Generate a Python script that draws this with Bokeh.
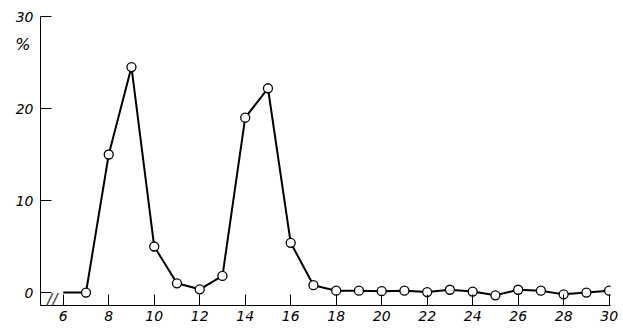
from bokeh.plotting import figure
from bokeh.models import Range1d, FixedTicker, Label, LinearAxis
from bokeh.embed import file_html
from bokeh.resources import INLINE

# data
days = [6, 7, 8, 9, 10, 11, 12, 13, 14, 15, 16, 17, 18, 19, 20, 21, 22, 23, 24, 25, 26, 27, 28, 29, 30]
percent = [0, 0, 15.0, 24.5, 5.0, 1.0, 0.35, 1.8, 19.0, 22.2, 5.4, 0.8, 0.2, 0.2, 0.15, 0.2, 0.05, 0.3, 0.1, -0.3, 0.3, 0.2, -0.2, 0.0, 0.2]
x_ticks = [6, 8, 10, 12, 14, 16, 18, 20, 22, 24, 26, 28, 30]
y_ticks = [0, 10, 20, 30]
unit_label = "%"

FONT = "DejaVu Sans"

p = figure(width=623, height=330, output_backend="svg", toolbar_location=None,
           x_range=Range1d(5.0, 30.06), y_range=Range1d(-1.41, 30),
           min_border_left=40, min_border_right=13, min_border_top=16, min_border_bottom=25)
p.outline_line_color = None
p.xgrid.visible = False
p.ygrid.visible = False
p.background_fill_color = "white"

for ax, ticks in ((p.xaxis, x_ticks), (p.yaxis, y_ticks)):
    ax.ticker = FixedTicker(ticks=ticks)
    ax.minor_tick_line_color = None
    ax.major_tick_in = 11
    ax.major_tick_out = 0
    ax.axis_line_color = "black"
    ax.major_tick_line_color = "black"
    ax.major_label_text_font = FONT
    ax.major_label_text_font_style = "italic"
    ax.major_label_text_font_size = "14px"
    ax.major_label_text_color = "black"
p.xaxis.major_label_standoff = 5
p.yaxis.major_label_standoff = 7

# unit label "%" below the top y tick, drawn as an extra bare axis
unit_axis = LinearAxis(ticker=FixedTicker(ticks=[27]), major_label_overrides={27: unit_label},
                       axis_line_color=None, major_tick_line_color=None, minor_tick_line_color=None,
                       major_tick_in=0, major_tick_out=0, major_label_standoff=-18,
                       major_label_text_font=FONT, major_label_text_font_style="italic",
                       major_label_text_font_size="16px", major_label_text_color="black")
p.add_layout(unit_axis, "left")

p.line(days, percent, line_color="black", line_width=2)
p.scatter(days[1:], percent[1:], size=9, fill_color="white", line_color="black", line_width=1.3)

p.add_layout(Label(x=5.5, y=-0.8, text="//", text_font=FONT, text_font_style="italic",
                   text_font_size="17px", text_align="center", text_baseline="middle"))

open("out.html", "w").write(file_html(p, INLINE))
